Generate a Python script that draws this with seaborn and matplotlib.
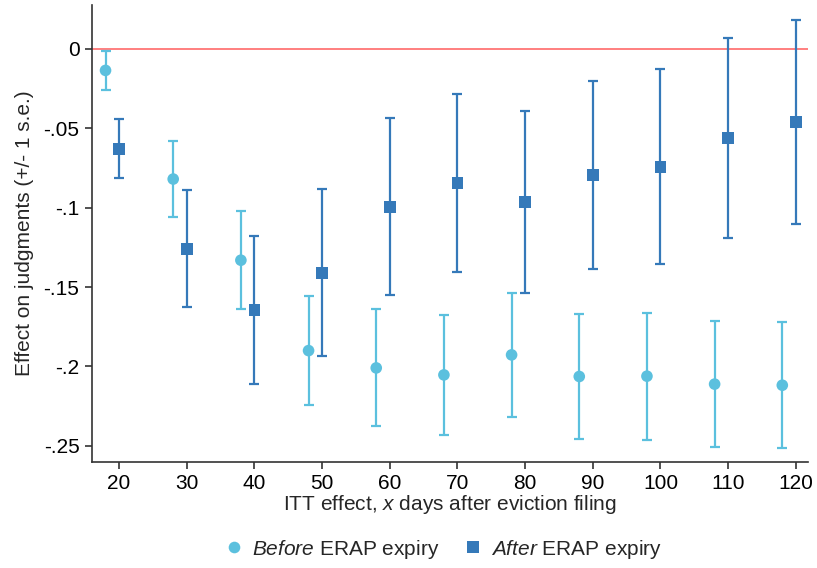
import matplotlib
matplotlib.use("Agg")
import matplotlib.pyplot as plt
import seaborn as sns
import pandas as pd
import numpy as np

# Data
days = [20, 30, 40, 50, 60, 70, 80, 90, 100, 110, 120]
before_est = [-0.0136, -0.082, -0.1331, -0.190, -0.2009, -0.2053, -0.1927, -0.2063, -0.2061, -0.2111, -0.2118]
before_se = [0.0123, 0.024, 0.0307, 0.0345, 0.0368, 0.0378, 0.0388, 0.0394, 0.0399, 0.0397, 0.0397]
after_est = [-0.063, -0.126, -0.1645, -0.141, -0.0995, -0.0844, -0.0963, -0.0793, -0.0743, -0.056, -0.046]
after_se = [0.0186, 0.0368, 0.0465, 0.0526, 0.0557, 0.0562, 0.0572, 0.0591, 0.0614, 0.0631, 0.0641]
yticks = [0, -0.05, -0.1, -0.15, -0.2, -0.25]
ytick_labels = ["0", "-.05", "-.1", "-.15", "-.2", "-.25"]
xticks = days

c_before = "#5bc0de"
c_after = "#3579b9"

sns.set_style("ticks")
plt.rcParams['font.family'] = ['Liberation Sans', 'DejaVu Sans']
plt.rcParams['mathtext.fontset'] = 'custom'
plt.rcParams['mathtext.rm'] = 'Liberation Sans'
plt.rcParams['mathtext.it'] = 'Liberation Sans:italic'

df_b = pd.DataFrame({"x": np.array(days) - 2, "y": before_est, "se": before_se,
                     "grp": "$\\it{Before}$ ERAP expiry"})
df_a = pd.DataFrame({"x": np.array(days), "y": after_est, "se": after_se,
                     "grp": "$\\it{After}$ ERAP expiry"})
df = pd.concat([df_b, df_a], ignore_index=True)

fig = plt.figure(figsize=(8.17, 5.68), dpi=100)
ax = fig.add_axes([0.1126, 0.187, 0.8764, 0.804])

ax.axhline(0, color="#ff6a6a", lw=1.2, zorder=1)

ax.errorbar(df_b["x"], df_b["y"], yerr=df_b["se"], fmt="none", ecolor=c_before,
            elinewidth=1.6, capsize=3.6, capthick=1.6, zorder=2)
ax.errorbar(df_a["x"], df_a["y"], yerr=df_a["se"], fmt="none", ecolor=c_after,
            elinewidth=1.6, capsize=3.6, capthick=1.6, zorder=2)

sns.scatterplot(data=df, x="x", y="y", hue="grp", style="grp",
                palette=[c_before, c_after], markers=["o", "s"],
                s=70, linewidth=0, ax=ax, zorder=3)

ax.set_xlim(16, 121.8)
ax.set_ylim(-0.26, 0.0275)
ax.set_xticks(xticks)
ax.set_xticklabels([str(d) for d in xticks])
ax.set_yticks(yticks)
ax.set_yticklabels(ytick_labels)
ax.tick_params(axis="both", labelsize=15, length=5, width=1.2, color="#333333", labelcolor="black")
ax.tick_params(axis="x", pad=4)
ax.tick_params(axis="y", pad=4)
for s in ["top", "right"]:
    ax.spines[s].set_visible(False)
for s in ["left", "bottom"]:
    ax.spines[s].set_color("#333333")
    ax.spines[s].set_linewidth(1.2)

ax.set_xlabel("ITT effect, $\\it{x}$ days after eviction filing", fontsize=15, labelpad=0)
ax.set_ylabel("Effect on judgments (+/- 1 s.e.)", fontsize=15, labelpad=7)

handles, labels = ax.get_legend_handles_labels()
ax.legend(handles, labels, loc="upper center", bbox_to_anchor=(0.489, -0.125), ncol=2,
          frameon=False, fontsize=15, handlelength=1.2, handletextpad=0.27,
          columnspacing=1.0, markerscale=1.0)

fig.savefig("out.png", dpi=100)
